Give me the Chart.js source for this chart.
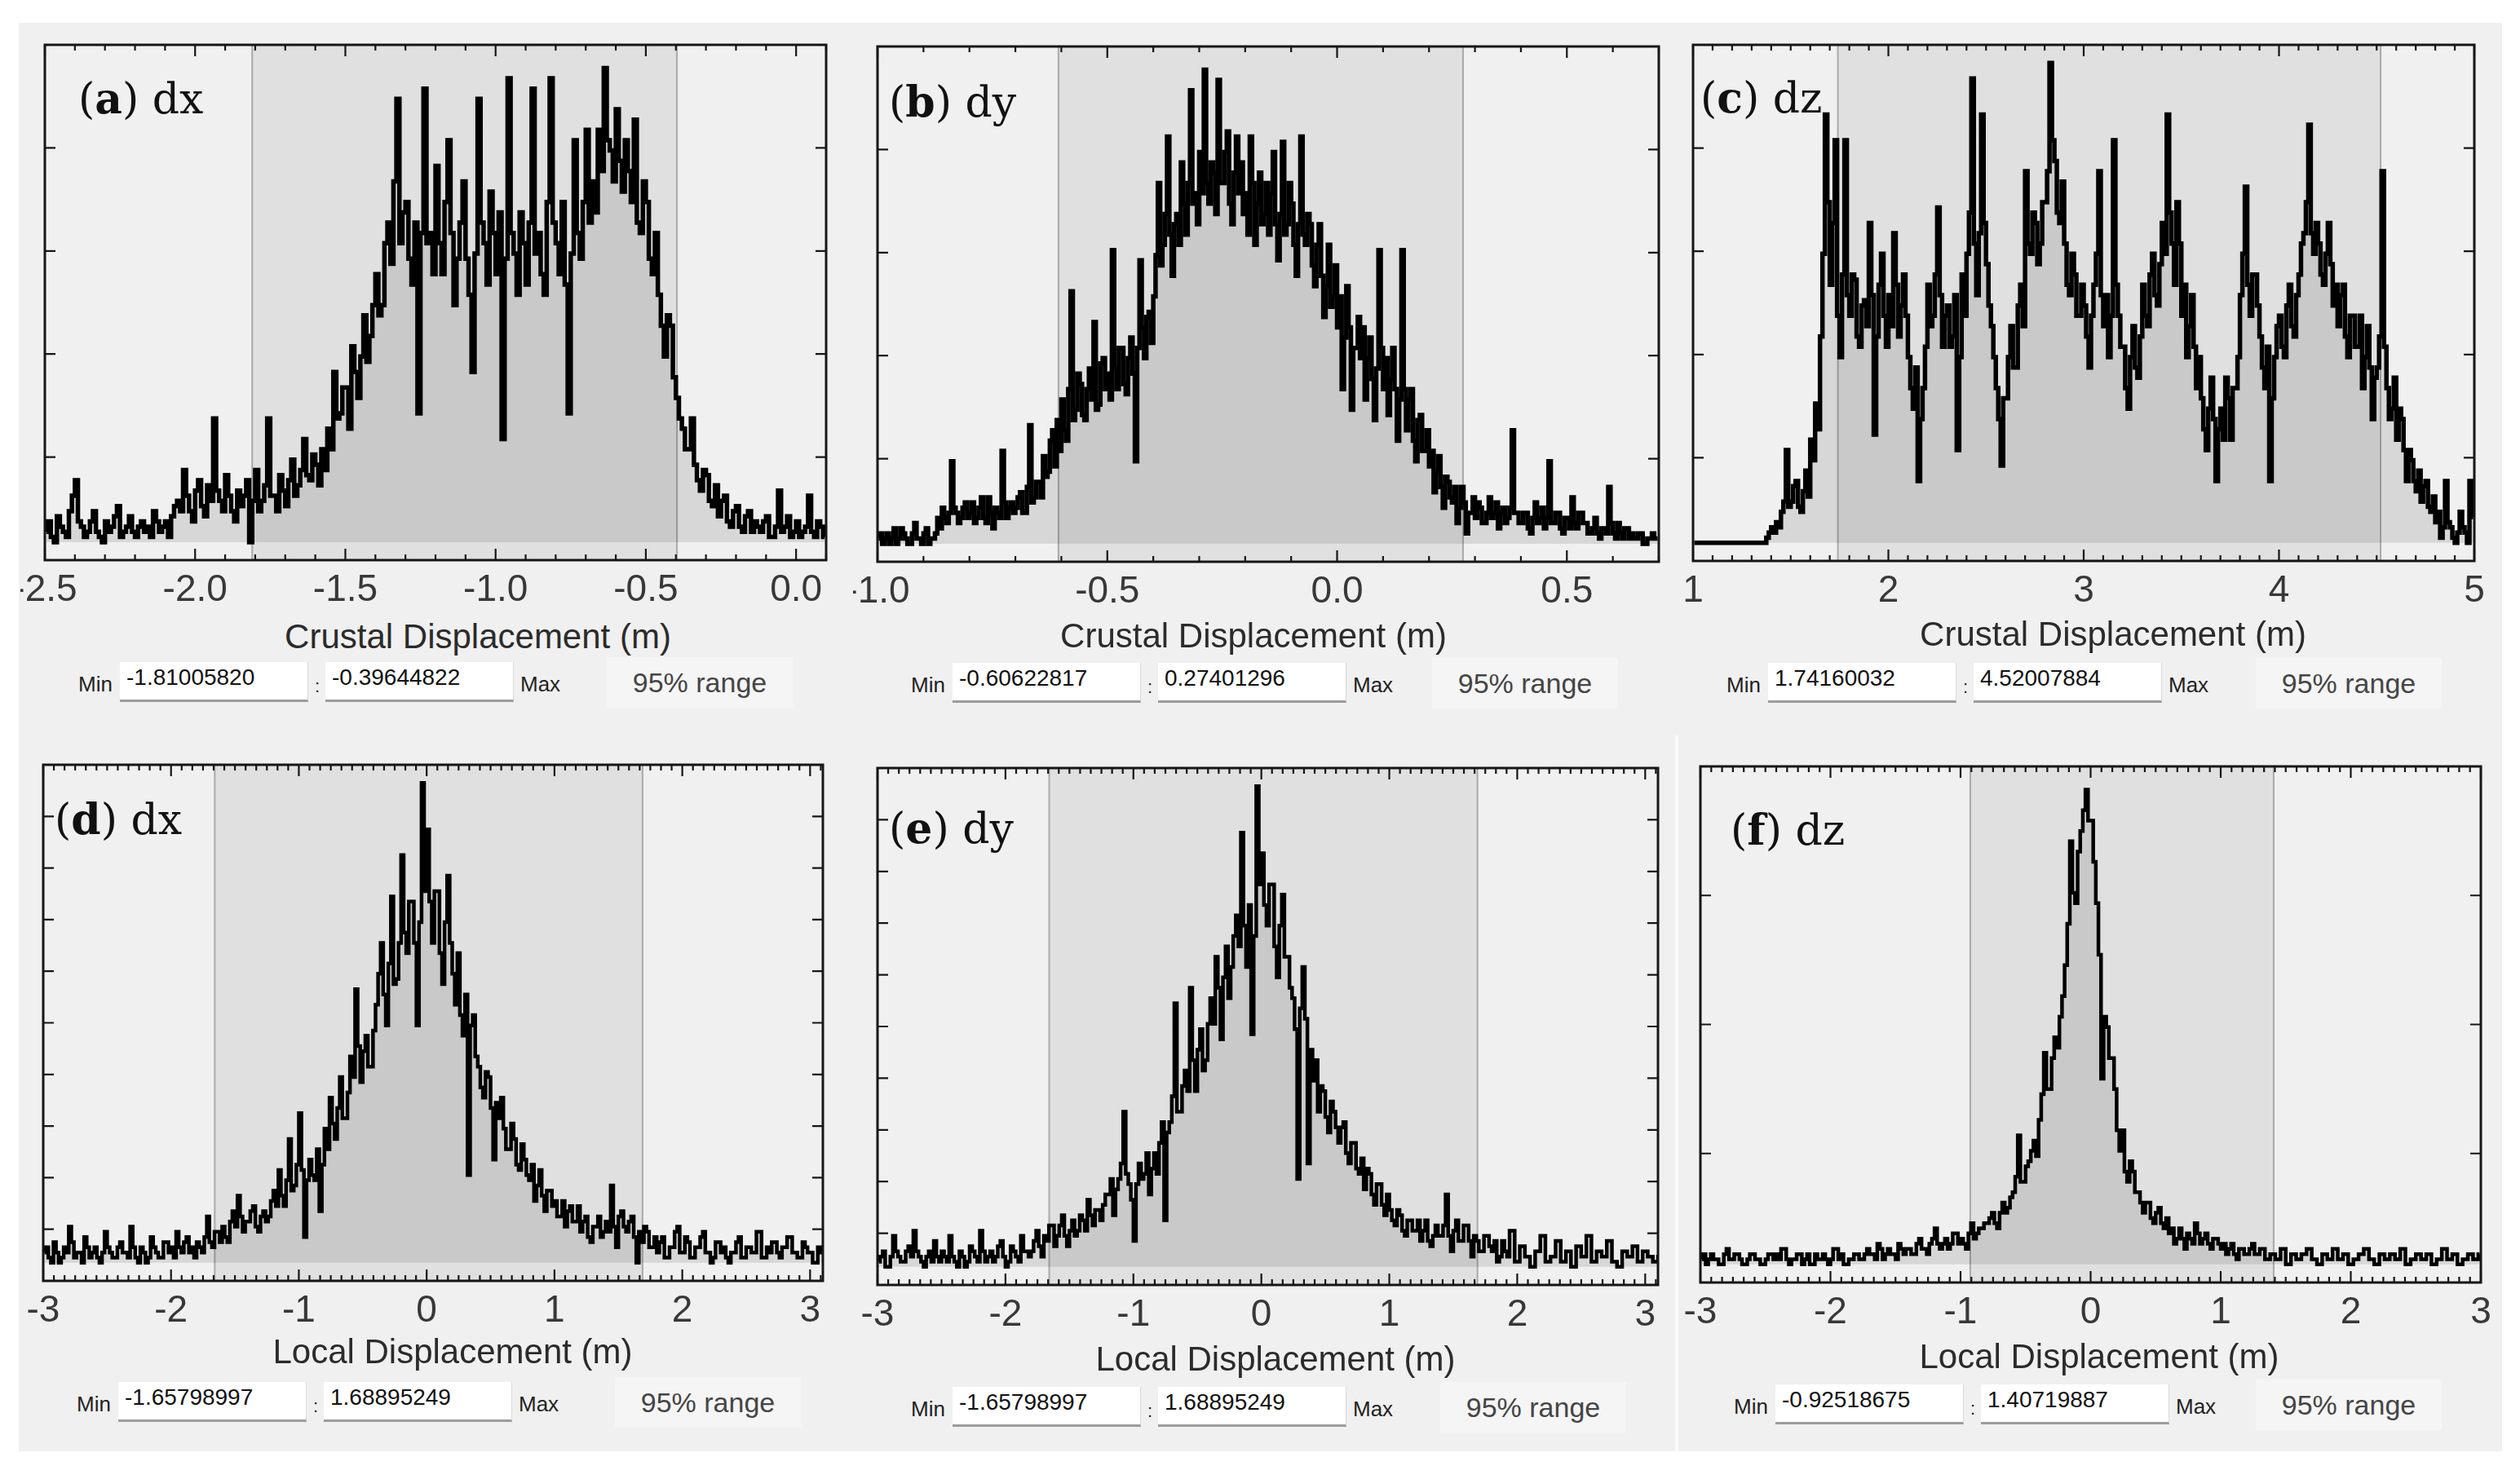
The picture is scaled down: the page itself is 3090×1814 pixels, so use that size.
<!DOCTYPE html>
<html>
<head>
<meta charset="utf-8">
<script src="https://cdn.jsdelivr.net/npm/chart.js@4.4.0/dist/chart.umd.min.js"></script>
<style>
  html, body { margin: 0; padding: 0; background: #fff; }
  #fig { position: relative; width: 3090px; height: 1814px; overflow: hidden; background: #fff; }
  #bg { position: absolute; left: 23px; top: 28px; width: 3045px; height: 1752px; background: #f0f0f0; }
  #split { position: absolute; left: 2054px; top: 902px; width: 4px; height: 880px; background: #fbfbfb; }
  canvas { position: absolute; }
  .lab { position: absolute; font-family: "DejaVu Serif", serif; font-size: 52px; line-height: 52px; color: #111; white-space: nowrap; }
  .ttl { position: absolute; font-family: "Liberation Sans", Arial, sans-serif; font-size: 42px; line-height: 42px; color: #2b2b2b; white-space: nowrap; transform: translate(-50%, -50%); }
  .cap { position: absolute; font-family: "Liberation Sans", Arial, sans-serif; font-size: 26px; line-height: 30px; color: #222; }
  .box { position: absolute; background: #fff; box-sizing: border-box; border-bottom: 3px solid #9c9c9c; border-right: 1px solid #d8d8d8;
         font-family: "Liberation Sans", Arial, sans-serif; font-size: 28px; line-height: 32px; color: #111; padding: 3px 0 0 8px; }
  .rng { position: absolute; background: #f5f5f5; font-family: "Liberation Sans", Arial, sans-serif; font-size: 34px; color: #454545; text-align: center; }
</style>
</head>
<body>
<div id="fig"><div id="bg"></div><div id="split"></div></div>
<script>
// axis titles
const crustalTitle = 'Crustal Displacement (m)';
const localTitle = 'Local Displacement (m)';

// (a) crustal dx : histogram span, counts (share of plot height), axis range, ticks, 95% range
const aBins = [-2.5, 0.1];
const aCounts = [2,4,1,0,5,3,2,1,6,9,12,4,3,1,2,4,6,2,1,0,4,2,3,5,7,1,2,3,5,2,1,3,4,2,3,1,6,4,2,3,4,1,5,7,
  8,6,14,9,6,4,10,12,7,5,11,8,24,10,8,6,13,9,6,4,10,7,9,12,
  0,8,14,6,8,11,24,9,9,6,13,10,7,12,16,9,11,14,20,13,12,17,15,11,18,14,
  22,18,33,24,25,30,30,22,38,33,28,36,44,35,40,46,
  52,44,46,58,62,54,
  70,86,58,64,66,55,50,62,25,60,88,58,
  60,52,73,58,52,66,78,60,46,55,62,70,55,48,
  33,56,86,62,58,50,68,60,52,64,
  20,55,90,60,56,48,64,58,50,62,88,56,60,52,48,66,
  90,62,58,52,66,50,25,56,78,60,55,66,80,62,
  70,64,80,72,92,78,76,70,84,74,68,78,72,66,
  82,62,60,70,66,55,52,60,
  48,42,36,44,42,32,
  28,24,22,18,18,24,
  15,12,10,14,13,8,7,11,
  5,8,9,4,3,6,7,3,2,5,6,2,4,3,
  2,4,5,1,1,3,10,2,3,5,1,2,4,1,2,3,9,2,1,4,3,1];
const aAxis = [-2.5, 0.1];
const aTicks = [-2.5, -2.0, -1.5, -1.0, -0.5, 0.0];
const aRange = [-1.81005820, -0.39644822];

// (b) crustal dy
const bBins = [-1.0, 0.7];
const bCounts = [1,2,0,1,2,0,1,3,0,1,3,2,1,0,0,2,4,1,1,0,2,3,0,1,1,2,
  5,3,7,5,4,6,16,7,6,4,5,7,8,5,
  6,8,4,5,7,9,5,4,9,6,3,7,6,5,18,8,5,7,8,6,
  7,9,10,6,6,11,23,8,9,12,
  12,9,17,13,14,20,22,15,24,18,
  28,22,20,30,49,24,26,33,31,25,
  24,30,34,28,43,26,27,35,36,30,
  33,28,57,34,30,38,38,31,29,36,
  40,33,16,38,55,42,36,44,45,39,
  48,56,70,54,58,64,79,60,52,62,
  64,58,74,66,60,70,88,66,68,62,
  76,68,92,70,66,74,72,64,90,70,
  70,76,80,66,62,72,79,68,74,64,
  68,60,79,70,58,66,72,62,64,70,
  60,68,76,62,55,64,78,60,62,70,
  66,58,52,62,79,60,58,64,62,54,
  50,58,62,52,44,50,58,46,48,54,
  42,48,30,40,50,42,26,38,38,44,
  36,42,28,36,40,32,24,34,57,38,
  30,36,25,32,38,30,20,28,57,30,
  22,28,30,20,16,24,25,18,18,22,
  15,18,10,14,17,11,7,13,12,9,
  8,11,4,7,11,8,2,6,6,9,
  5,8,7,4,4,6,9,5,6,8,3,6,7,4,5,7,22,6,6,4,
  4,6,6,3,2,5,8,4,5,7,3,5,16,4,4,6,6,3,2,5,5,3,9,4,3,6,6,4,4,2,
  2,3,5,2,1,3,3,2,11,4,2,1,4,2,1,3,3,1,2,1,1,2,2,0,0,1,1,2,1,1];
const bAxis = [-1.0, 0.7];
const bTicks = [-1.0, -0.5, 0.0, 0.5];
const bRange = [-0.60622817, 0.27401296];

// (c) crustal dz
const cBins = [1.0, 5.0];
const cCounts = [0,0,0,0,0,0,0,0,0,0,0,0,0,0,0,0,0,0,0,0,0,0,0,0,0,0,0,0,0,0,
  1,2,3,2, 4,3,6,8,18,7, 8,11,12,7,6,10,14,9, 20,16,27,22, 40,56,83,66,
  50,62,78,44,36,52,78,48, 44,52,51,40,38,46,47,42, 62,48,21,40,50,56,44,38,
  48,42,60,50,40,46,52,44, 36,30,26,34,12,24,30,38, 50,42,44,52,65,48,38,44,
  46,38,40,48,18,36,52,44, 56,64,90,58,48,60,83,62, 54,46,42,36,30,24,15,28,
  28,36,42,34,34,46,50,42, 72,58,56,64,62,54,58,66, 66,72,93,78,74,64,62,70,
  58,50,48,56,52,44,44,50, 46,40,34,44,50,56,72,48, 42,48,36,44,78,50,44,38,
  38,30,26,36,42,34,32,40, 50,44,42,52,56,48,46,54, 62,56,83,64,58,50,66,58,
  44,50,36,42,48,38,30,36, 28,22,18,26,32,24,12,22, 26,20,32,28,20,30,30,36,
  48,56,69,50,44,52,52,46, 40,34,30,38,12,28,36,42, 44,38,36,46,50,42,40,48,
  52,58,60,66,81,60,56,62, 58,52,50,56,62,54,46,50, 42,48,50,40,36,44,44,38,
  38,44,30,36,42,34,24,32, 34,40,72,38,30,24,26,32, 20,26,24,18,12,18,16,12,
  10,14,8,11,12,7,6,9,
  4,6,1,3,12,4,3,1,0,2,6,3,2,0,12,5];
const cAxis = [1, 5];
const cTicks = [1, 2, 3, 4, 5];
const cRange = [1.74160032, 4.52007884];

// (d) local dx
const dBins = [-3.0, 3.12];
const dCounts = [2,3,1,0,4,2,0,1,3,2, 7,4,1,2,2,0,5,3,1,2, 3,1,0,2,6,3,2,1,1,3,
  4,2,2,1,7,3,1,0,3,2, 0,1,5,3,2,1,1,4,4,2, 3,1,6,3,2,4,5,2,3,1,
  4,3,2,5,9,4,3,6,6,4,
  7,5,4,8,10,7,13,9,6,8,
  8,10,11,7,6,9,10,8,9,12,
  14,11,18,13,11,16,24,14,15,19,
  29,18,5,16,20,17,16,22,10,19,
  26,22,32,27,24,30,36,28,28,33,
  40,36,53,42,35,41,44,38,38,45,
  50,56,62,52,46,58,71,54,55,62,
  79,64,60,70,70,62,46,66,93,72,
  84,70,62,72,72,60,54,66,75,62,
  56,50,60,48,44,52,17,46,48,40,
  38,34,32,37,36,30,20,31,28,32,
  26,22,22,27,24,19,18,23,20,17,
  16,19,12,15,18,13,10,14,14,11,
  12,9,9,12,7,10,11,8,8,11,
  6,8,9,5,4,7,7,9,5,6,
  8,6,15,7,3,9,10,7,6,8,
  9,5,0,6,4,7,6,3,3,5,
  2,4,5,1,1,3,3,6,7,2, 2,5,4,1,1,3,3,5,6,2, 2,0,1,4,4,2,3,1,0,2,
  2,4,5,1,1,3,3,2,2,6, 6,1,1,3,2,4,4,2,1,3, 3,5,5,2,2,1,1,4,3,2, 2,0,0,3,2,3];
const dAxis = [-3, 3.1];
const dTicks = [-3, -2, -1, 0, 1, 2, 3];
const dRange = [-1.65798997, 1.68895249];

// (e) local dy
const eBins = [-3.0, 3.12];
const eCounts = [1,2,3,0,0,2,6,3,2,1, 1,3,4,2,7,3,2,1,0,2, 3,1,5,2,1,3,2,1,6,2,
  1,0,3,2,0,1,4,3,2,1, 7,3,1,2,3,1,2,4,5,2, 0,1,4,3,2,1,6,3,3,2,
  3,5,7,4,2,6,5,8,8,4,
  6,8,10,6,4,7,9,6,7,10,
  9,7,13,10,8,11,11,9,12,14,
  14,17,10,15,17,20,30,18,16,13,
  5,16,20,17,18,22,14,19,22,18,
  24,28,9,26,28,33,51,30,30,35,
  38,34,54,40,34,42,46,38,40,47,
  52,47,60,54,44,56,62,52,58,64,
  68,62,84,66,58,70,45,64,93,74,
  80,70,66,74,74,62,56,66,72,60,
  60,54,52,46,17,50,58,48,20,42,
  36,40,30,35,34,29,26,32,30,27,
  24,27,28,22,20,24,24,19,18,21,
  15,19,18,14,12,16,16,12,10,14,
  11,9,8,11,10,7,6,9,9,7,
  7,9,5,7,9,5,4,6,8,6,
  6,8,14,6,3,7,9,5,5,8,
  8,5,2,6,5,3,3,6,6,4,
  3,5,1,2,5,3,2,7,7,1, 1,4,4,2,2,0,0,3,3,6, 6,1,1,2,2,5,5,1,1,3,
  3,0,0,4,4,2,2,6,6,1, 1,3,3,2,2,5,5,1,1,0, 0,3,3,2,2,4,4,1,1,3, 3,2,2,1,1,2];
const eAxis = [-3, 3.1];
const eTicks = [-3, -2, -1, 0, 1, 2, 3];
const eRange = [-1.65798997, 1.68895249];

// (f) local dz
const fBins = [-3.0, 3.0];
const fCounts = [1,2,0,1,2,1,1,0,0,2, 3,1,1,2,2,1,0,0,1,2, 2,1,1,0,0,1,2,2,1,2,
  1,3,3,1,0,1,1,2,2,0, 1,2,0,0,2,1,1,2,1,0, 1,3,3,1,2,0,0,1,1,2,
  2,1,1,2,3,2,2,1,4,3,1,2,3,2,2,1,4,3,2,3,
  3,2,2,4,5,3,3,2,4,5,7,4,3,4,5,3,4,6,6,4,
  5,4,3,6,8,5,6,7,7,8,
  8,9,10,8,7,10,12,10,11,13,
  14,17,25,16,16,19,20,22,24,21,
  28,33,41,34,34,40,44,42,48,52,
  58,66,82,72,70,80,84,88,92,86,
  86,78,70,60,36,48,46,40,40,34,
  26,22,26,18,16,20,18,14,14,12,
  10,12,12,9,8,10,11,8,7,9,
  6,7,4,5,7,5,3,6,5,4,8,6,4,5,6,4,3,5,5,4,
  3,4,2,3,4,2,1,3,3,2,2,3,4,2,2,3,3,1,1,2,
  2,1,1,3,3,0,0,2,2,1, 1,2,2,3,3,1,1,0,0,2, 2,1,1,3,3,1,1,2,2,0, 0,1,1,2,2,3,3,1,1,0,
  0,2,2,1,1,2,2,1,1,3, 3,0,0,1,1,2,2,1,1,2, 2,0,0,1,1,3,3,1,1,2, 2,0,0,1,1,2,2,1,1,2];
const fAxis = [-3, 3];
const fTicks = [-3, -2, -1, 0, 1, 2, 3];
const fRange = [-0.92518675, 1.40719887];

// y axis (unlabelled): tick positions, range
const yFifths = [16.5, 36.5, 56.5, 76.5];
const yTenths = [6.5, 16.5, 26.5, 36.5, 46.5, 56.5, 66.5, 76.5, 86.5];
const yQuarters = [21.5, 46.5, 71.5];
const yAxis = [-3.5, 96.5];

// layout of each panel: plot box, title centre, label, controls row
const panels = [
  { key: 'a', comp: 'dx', bins: aBins, counts: aCounts, axis: aAxis, ticks: aTicks, range: aRange, yTicks: yFifths, minor: 0.1, dec: 1, title: crustalTitle,
    plot: [55, 55, 1013, 687], ttl: [586, 781], lab: [96, 139], row: 837, rng: 858, lw: 5.5 },
  { key: 'b', comp: 'dy', bins: bBins, counts: bCounts, axis: bAxis, ticks: bTicks, range: bRange, yTicks: yFifths, minor: 0.1, dec: 1, title: crustalTitle,
    plot: [1076, 57, 2034, 689], ttl: [1537, 780], lab: [1090, 143], row: 838, rng: 1870, lw: 5.5 },
  { key: 'c', comp: 'dz', bins: cBins, counts: cCounts, axis: cAxis, ticks: cTicks, range: cRange, yTicks: yFifths, minor: 0.1, dec: 0, title: crustalTitle,
    plot: [2076, 55, 3034, 688], ttl: [2591, 778], lab: [2085, 138], row: 838, rng: 2880, lw: 5.5 },
  { key: 'd', comp: 'dx', bins: dBins, counts: dCounts, axis: dAxis, ticks: dTicks, range: dRange, yTicks: yTenths, minor: 1 / 12, dec: 0, title: localTitle,
    plot: [53, 938, 1009, 1571], ttl: [555, 1658], lab: [67, 1023], row: 1720, rng: 868, lw: 4.5 },
  { key: 'e', comp: 'dy', bins: eBins, counts: eCounts, axis: eAxis, ticks: eTicks, range: eRange, yTicks: yTenths, minor: 1 / 12, dec: 0, title: localTitle,
    plot: [1076, 942, 2033, 1576], ttl: [1564, 1667], lab: [1090, 1034], row: 1726, rng: 1880, lw: 4.5 },
  { key: 'f', comp: 'dz', bins: fBins, counts: fCounts, axis: fAxis, ticks: fTicks, range: fRange, yTicks: yQuarters, minor: 1 / 12, dec: 0, title: localTitle,
    plot: [2085, 940, 3042, 1573], ttl: [2574, 1664], lab: [2122, 1036], row: 1723, rng: 2880, lw: 4.5 }
];

const tickFont = "'Liberation Sans', Arial, sans-serif";

// band behind the histogram, inward ticks and frame on top
const frame = {
  id: 'frame',
  beforeDatasetsDraw(chart, args, o) {
    const { ctx, chartArea: a, scales: { x } } = chart;
    const x0 = x.getPixelForValue(o.band[0]);
    const x1 = x.getPixelForValue(o.band[1]);
    ctx.save();
    ctx.fillStyle = '#e0e0e0';
    ctx.fillRect(x0, a.top, x1 - x0, a.bottom - a.top);
    ctx.strokeStyle = '#a9a9a9';
    ctx.lineWidth = 2;
    ctx.beginPath();
    ctx.moveTo(x0, a.top); ctx.lineTo(x0, a.bottom);
    ctx.moveTo(x1, a.top); ctx.lineTo(x1, a.bottom);
    ctx.stroke();
    ctx.restore();
  },
  afterDatasetsDraw(chart, args, o) {
    const { ctx, chartArea: a, scales: { x, y } } = chart;
    ctx.save();
    ctx.strokeStyle = '#161616';
    ctx.lineWidth = 2.2;
    ctx.beginPath();
    for (let k = Math.ceil(x.min / o.minor - 1e-6); k * o.minor <= x.max + 1e-6; k++) {
      const px = x.getPixelForValue(k * o.minor);
      ctx.moveTo(px, a.bottom); ctx.lineTo(px, a.bottom - 7);
      ctx.moveTo(px, a.top); ctx.lineTo(px, a.top + 7);
    }
    o.major.forEach(v => {
      const px = x.getPixelForValue(v);
      ctx.moveTo(px, a.bottom); ctx.lineTo(px, a.bottom - 14);
      ctx.moveTo(px, a.top); ctx.lineTo(px, a.top + 14);
    });
    o.yTicks.forEach(v => {
      const py = y.getPixelForValue(v);
      ctx.moveTo(a.left, py); ctx.lineTo(a.left + 13, py);
      ctx.moveTo(a.right, py); ctx.lineTo(a.right - 13, py);
    });
    ctx.stroke();
    ctx.lineWidth = 3;
    ctx.strokeRect(a.left, a.top, a.right - a.left, a.bottom - a.top);
    ctx.restore();
  }
};

const fig = document.getElementById('fig');
function add(cls, html, css) {
  const d = document.createElement('div');
  d.className = cls;
  d.innerHTML = html;
  Object.assign(d.style, css);
  fig.appendChild(d);
  return d;
}

const padL = 30, padR = 50, padT = 10, axisH = 70;

panels.forEach(p => {
  const [l, t, r, b] = p.plot;
  const cv = document.createElement('canvas');
  cv.width = r - l + padL + padR;
  cv.height = b - t + padT + axisH;
  cv.style.left = (l - padL) + 'px';
  cv.style.top = (t - padT) + 'px';
  fig.appendChild(cv);

  const w = (p.bins[1] - p.bins[0]) / p.counts.length;

  new Chart(cv, {
    type: 'line',
    data: {
      datasets: [{
        data: p.counts.map((c, i) => ({ x: p.bins[0] + (i + 0.5) * w, y: c })),
        borderColor: '#000',
        borderWidth: p.lw,
        backgroundColor: 'rgba(0,0,0,0.1)',
        fill: 'origin',
        stepped: 'middle',
        pointRadius: 0
      }]
    },
    options: {
      responsive: false,
      animation: false,
      devicePixelRatio: 1,
      layout: { padding: { left: padL, right: padR, top: padT, bottom: 0 } },
      plugins: {
        legend: { display: false },
        tooltip: { enabled: false },
        frame: { band: p.range, major: p.ticks, yTicks: p.yTicks, minor: p.minor }
      },
      scales: {
        x: {
          type: 'linear',
          min: p.axis[0],
          max: p.axis[1],
          grid: { display: false, drawTicks: false },
          border: { display: false },
          afterBuildTicks: s => { s.ticks = p.ticks.map(v => ({ value: v })); },
          afterFit: s => { s.height = axisH; s.paddingLeft = 0; s.paddingRight = 0; },
          ticks: {
            autoSkip: false,
            maxRotation: 0,
            padding: 10,
            color: '#383838',
            font: { family: tickFont, size: 46 },
            callback: v => v.toFixed(p.dec)
          }
        },
        y: { display: false, min: yAxis[0], max: yAxis[1] }
      }
    },
    plugins: [frame]
  });

  // panel label, axis title, 95% range controls
  add('lab', '(<b>' + p.key + '</b>) ' + p.comp, { left: p.lab[0] + 'px', top: (p.lab[1] - 44) + 'px' });
  add('ttl', p.title, { left: p.ttl[0] + 'px', top: p.ttl[1] + 'px' });
  add('cap', 'Min', { left: (l + 41) + 'px', top: (p.row - 13) + 'px' });
  add('box', p.range[0].toFixed(8), { left: (l + 92) + 'px', top: (p.row - 25) + 'px', width: '231px', height: '49px' });
  add('cap', ':', { left: (l + 331) + 'px', top: (p.row - 10) + 'px', fontSize: '22px' });
  add('box', p.range[1].toFixed(8), { left: (l + 344) + 'px', top: (p.row - 25) + 'px', width: '231px', height: '49px' });
  add('cap', 'Max', { left: (l + 583) + 'px', top: (p.row - 13) + 'px' });
  add('rng', '95% range', { left: (p.rng - 114) + 'px', top: (p.row - 31) + 'px', width: '228px', height: '62px', lineHeight: '62px' });
});
</script>
</body>
</html>
